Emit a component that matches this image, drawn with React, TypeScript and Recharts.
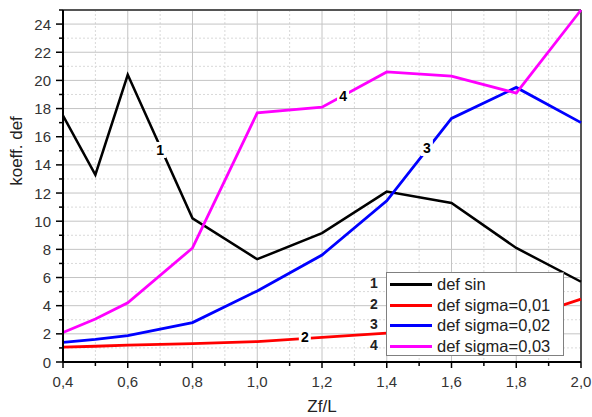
import * as React from "react"
import {
  LineChart,
  Line,
  XAxis,
  YAxis,
  CartesianGrid,
  ReferenceLine,
  ReferenceDot,
  Label,
} from "recharts"

const xValues = [0.4, 0.5, 0.6, 0.8, 1.0, 1.2, 1.4, 1.6, 1.8, 2.0]
const defSin = [17.5, 13.3, 20.4, 10.2, 7.3, 9.15, 12.1, 11.3, 8.1, 5.7]
const defSigma001 = [1.05, 1.12, 1.2, 1.3, 1.45, 1.75, 2.05, 2.4, 2.95, 4.47]
const defSigma002 = [1.4, 1.6, 1.87, 2.8, 5.05, 7.6, 11.45, 17.3, 19.5, 17.0]
const defSigma003 = [2.1, 3.05, 4.2, 8.1, 17.7, 18.1, 20.6, 20.3, 19.1, 25.0]

const xMajorTicks = [0.4, 0.6, 0.8, 1.0, 1.2, 1.4, 1.6, 1.8, 2.0]
const xMinorTicks = [0.5, 0.7, 0.9, 1.1, 1.3, 1.5, 1.7, 1.9]
const yMajorTicks = [0, 2, 4, 6, 8, 10, 12, 14, 16, 18, 20, 22, 24]
const yMinorTicks = [1, 3, 5, 7, 9, 11, 13, 15, 17, 19, 21, 23, 25]

// series config: key, legend name, number, colour, where the number sits on the curve
const series = [
  { key: "s1", values: defSin, name: "def sin", num: "1", color: "#000000", at: [0.7, 15.06] },
  { key: "s2", values: defSigma001, name: "def sigma=0,01", num: "2", color: "#ff0000", at: [1.147, 1.8] },
  { key: "s3", values: defSigma002, name: "def sigma=0,02", num: "3", color: "#0000ff", at: [1.524, 15.2] },
  { key: "s4", values: defSigma003, name: "def sigma=0,03", num: "4", color: "#ff00ff", at: [1.265, 18.9] },
]

const data = xValues.map((x, i) => {
  const row: Record<string, number> = { x }
  series.forEach((s) => (row[s.key] = s.values[i]))
  return row
})

const FONT = "'Liberation Sans', Arial, sans-serif"
const fmtX = (v: number) => v.toFixed(1).replace(".", ",")
const isMajor = (v: number, majors: number[]) => majors.some((m) => Math.abs(m - v) < 1e-6)

function XTick({ x, y, payload }: any) {
  const major = isMajor(payload.value, xMajorTicks)
  return (
    <g>
      <line x1={x} x2={x} y1={y} y2={y + (major ? 6 : 4)} stroke="#000" strokeWidth={1.5} />
      {major && (
        <text x={x} y={y + 25} textAnchor="middle" fontSize={15} fill="#333" fontFamily={FONT}>
          {fmtX(payload.value)}
        </text>
      )}
    </g>
  )
}

function YTick({ x, y, payload }: any) {
  const major = isMajor(payload.value, yMajorTicks)
  return (
    <g>
      <line x1={x - (major ? 7 : 4)} x2={x} y1={y} y2={y} stroke="#000" strokeWidth={1.5} />
      {major && (
        <text x={x - 12} y={y + 5.5} textAnchor="end" fontSize={15} fill="#333" fontFamily={FONT}>
          {payload.value}
        </text>
      )}
    </g>
  )
}

function NumberTag({ cx, cy, text }: any) {
  return (
    <g>
      <rect x={cx - 6} y={cy - 8} width={12} height={16} fill="#fff" />
      <text x={cx} y={cy + 5} textAnchor="middle" fontSize={14} fontWeight="bold" fill="#000" fontFamily={FONT}>
        {text}
      </text>
    </g>
  )
}

export default function App() {
  return (
    <div style={{ position: "absolute", left: 0, top: 0, width: 592, height: 417, background: "#fff" }}>
      <LineChart width={592} height={417} data={data} margin={{ top: 10, right: 11, bottom: 0, left: 0 }}>
        <CartesianGrid
          horizontalValues={yMinorTicks}
          verticalValues={xMinorTicks}
          stroke="#d9d9d9"
          strokeDasharray="2 2"
        />
        <CartesianGrid horizontalValues={yMajorTicks} verticalValues={xMajorTicks} stroke="#c4c4c4" />
        <XAxis
          dataKey="x"
          type="number"
          domain={[0.4, 2.0]}
          ticks={[...xMajorTicks, ...xMinorTicks].sort((a, b) => a - b)}
          interval={0}
          height={55}
          tickSize={0}
          tickMargin={0}
          tickLine={false}
          tick={<XTick />}
          axisLine={{ stroke: "#000", strokeWidth: 2 }}
        >
          <Label value="Zf/L" position="insideBottom" offset={5} fontSize={17} fill="#222" fontFamily={FONT} />
        </XAxis>
        <YAxis
          type="number"
          domain={[0, 25]}
          ticks={[...yMajorTicks, ...yMinorTicks].sort((a, b) => a - b)}
          interval={0}
          width={63}
          tickSize={0}
          tickMargin={0}
          tickLine={false}
          tick={<YTick />}
          axisLine={{ stroke: "#000", strokeWidth: 2 }}
        >
          <Label
            content={({ viewBox }: any) => (
              <text
                x={viewBox.x + 22}
                y={151}
                transform={`rotate(-90, ${viewBox.x + 22}, 151)`}
                textAnchor="middle"
                fontSize={17}
                fill="#222"
                fontFamily={FONT}
              >
                koeff. def
              </text>
            )}
          />
        </YAxis>
        <ReferenceLine y={25} stroke="#555" strokeWidth={2} />
        <ReferenceLine x={2.0} stroke="#555" strokeWidth={2} />
        {series.map((s) => (
          <Line
            key={s.key}
            dataKey={s.key}
            type="linear"
            stroke={s.color}
            strokeWidth={s.key === "s1" ? 2.5 : 2.8}
            dot={false}
            activeDot={false}
            isAnimationActive={false}
          />
        ))}
        {series.map((s) => (
          <ReferenceDot
            key={"tag" + s.key}
            x={s.at[0]}
            y={s.at[1]}
            r={0}
            shape={(p: any) => <NumberTag cx={p.cx} cy={p.cy} text={s.num} />}
          />
        ))}
      </LineChart>
      <div
        style={{
          position: "absolute",
          left: 386,
          top: 272,
          width: 176,
          height: 82,
          border: "1px solid #808080",
          background: "#fff",
          fontFamily: FONT,
        }}
      >
        {series.map((s, i) => (
          <div
            key={s.key}
            style={{ position: "absolute", left: 0, top: 1 + i * 20.7, height: 21, display: "flex", alignItems: "center" }}
          >
            <span style={{ display: "inline-block", width: 42, height: 3, background: s.color, marginLeft: 3 }} />
            <span style={{ fontSize: 16.5, color: "#222", marginLeft: 5, whiteSpace: "nowrap" }}>{s.name}</span>
          </div>
        ))}
      </div>
      {series.map((s, i) => (
        <div
          key={"n" + s.key}
          style={{
            position: "absolute",
            left: 368,
            top: 273 + i * 20.7,
            width: 12,
            textAlign: "center",
            fontFamily: FONT,
            fontSize: 14,
            fontWeight: "bold",
            lineHeight: "20px",
            color: "#222",
          }}
        >
          {s.num}
        </div>
      ))}
    </div>
  )
}
